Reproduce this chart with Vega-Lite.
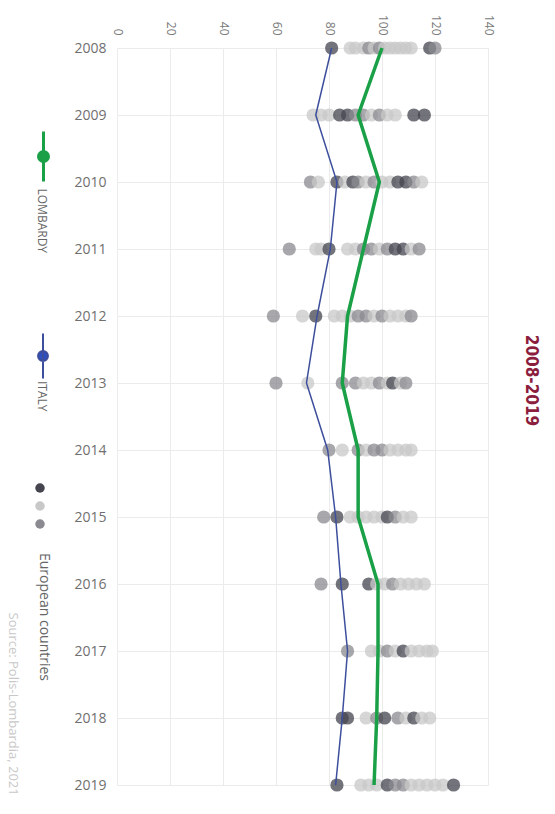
{
  "$schema": "https://vega.github.io/schema/vega-lite/v6.json",
  "autosize": {"type": "none"},
  "padding": {"left": 117, "top": 48, "right": 67, "bottom": 29},
  "width": 371,
  "height": 737,
  "background": "white",
  "config": {
    "view": {"stroke": null},
    "font": "Open Sans",
    "axis": {"gridColor": "#ebebeb", "gridWidth": 1, "domain": false, "ticks": false}
  },
  "title": {
    "text": "2008-2019",
    "orient": "right",
    "anchor": "middle",
    "font": "'DejaVu Sans Condensed', Roboto",
    "fontSize": 17,
    "fontWeight": "bold",
    "color": "#8b1d3d",
    "offset": 28,
    "dx": -36
  },
  "datasets": {
    "eu": [
      {"year": 2008, "value": 81, "shade": "dark"}, {"year": 2008, "value": 88, "shade": "light"}, {"year": 2008, "value": 90, "shade": "light"}, {"year": 2008, "value": 93, "shade": "light"}, {"year": 2008, "value": 95, "shade": "mid"}, {"year": 2008, "value": 97, "shade": "light"}, {"year": 2008, "value": 99, "shade": "mid"}, {"year": 2008, "value": 101, "shade": "light"}, {"year": 2008, "value": 103, "shade": "light"}, {"year": 2008, "value": 105, "shade": "light"}, {"year": 2008, "value": 107, "shade": "light"}, {"year": 2008, "value": 109, "shade": "light"}, {"year": 2008, "value": 111, "shade": "light"}, {"year": 2008, "value": 118, "shade": "dark"}, {"year": 2008, "value": 120, "shade": "mid"},
      {"year": 2009, "value": 74, "shade": "light"}, {"year": 2009, "value": 77, "shade": "light"}, {"year": 2009, "value": 80, "shade": "light"}, {"year": 2009, "value": 84, "shade": "dark"}, {"year": 2009, "value": 87, "shade": "dark"}, {"year": 2009, "value": 90, "shade": "mid"}, {"year": 2009, "value": 93, "shade": "mid"}, {"year": 2009, "value": 96, "shade": "light"}, {"year": 2009, "value": 99, "shade": "mid"}, {"year": 2009, "value": 102, "shade": "light"}, {"year": 2009, "value": 105, "shade": "light"}, {"year": 2009, "value": 112, "shade": "dark"}, {"year": 2009, "value": 116, "shade": "dark"},
      {"year": 2010, "value": 73, "shade": "mid"}, {"year": 2010, "value": 76, "shade": "light"}, {"year": 2010, "value": 83, "shade": "dark"}, {"year": 2010, "value": 86, "shade": "light"}, {"year": 2010, "value": 89, "shade": "dark"}, {"year": 2010, "value": 91, "shade": "mid"}, {"year": 2010, "value": 94, "shade": "light"}, {"year": 2010, "value": 97, "shade": "mid"}, {"year": 2010, "value": 100, "shade": "light"}, {"year": 2010, "value": 103, "shade": "light"}, {"year": 2010, "value": 106, "shade": "dark"}, {"year": 2010, "value": 109, "shade": "dark"}, {"year": 2010, "value": 112, "shade": "mid"}, {"year": 2010, "value": 115, "shade": "light"},
      {"year": 2011, "value": 65, "shade": "mid"}, {"year": 2011, "value": 75, "shade": "light"}, {"year": 2011, "value": 77, "shade": "light"}, {"year": 2011, "value": 80, "shade": "dark"}, {"year": 2011, "value": 87, "shade": "light"}, {"year": 2011, "value": 90, "shade": "light"}, {"year": 2011, "value": 93, "shade": "mid"}, {"year": 2011, "value": 96, "shade": "mid"}, {"year": 2011, "value": 99, "shade": "light"}, {"year": 2011, "value": 102, "shade": "mid"}, {"year": 2011, "value": 105, "shade": "dark"}, {"year": 2011, "value": 108, "shade": "dark"}, {"year": 2011, "value": 111, "shade": "light"}, {"year": 2011, "value": 114, "shade": "mid"},
      {"year": 2012, "value": 59, "shade": "mid"}, {"year": 2012, "value": 70, "shade": "light"}, {"year": 2012, "value": 75, "shade": "dark"}, {"year": 2012, "value": 82, "shade": "light"}, {"year": 2012, "value": 85, "shade": "light"}, {"year": 2012, "value": 88, "shade": "light"}, {"year": 2012, "value": 91, "shade": "mid"}, {"year": 2012, "value": 94, "shade": "mid"}, {"year": 2012, "value": 97, "shade": "light"}, {"year": 2012, "value": 100, "shade": "mid"}, {"year": 2012, "value": 103, "shade": "light"}, {"year": 2012, "value": 106, "shade": "light"}, {"year": 2012, "value": 109, "shade": "light"}, {"year": 2012, "value": 111, "shade": "mid"},
      {"year": 2013, "value": 60, "shade": "mid"}, {"year": 2013, "value": 72, "shade": "light"}, {"year": 2013, "value": 85, "shade": "mid"}, {"year": 2013, "value": 90, "shade": "mid"}, {"year": 2013, "value": 93, "shade": "light"}, {"year": 2013, "value": 96, "shade": "light"}, {"year": 2013, "value": 99, "shade": "mid"}, {"year": 2013, "value": 102, "shade": "light"}, {"year": 2013, "value": 104, "shade": "dark"}, {"year": 2013, "value": 107, "shade": "light"}, {"year": 2013, "value": 109, "shade": "mid"},
      {"year": 2014, "value": 80, "shade": "mid"}, {"year": 2014, "value": 85, "shade": "light"}, {"year": 2014, "value": 91, "shade": "mid"}, {"year": 2014, "value": 94, "shade": "light"}, {"year": 2014, "value": 97, "shade": "mid"}, {"year": 2014, "value": 100, "shade": "mid"}, {"year": 2014, "value": 103, "shade": "light"}, {"year": 2014, "value": 106, "shade": "light"}, {"year": 2014, "value": 109, "shade": "light"}, {"year": 2014, "value": 111, "shade": "light"},
      {"year": 2015, "value": 78, "shade": "mid"}, {"year": 2015, "value": 83, "shade": "dark"}, {"year": 2015, "value": 88, "shade": "light"}, {"year": 2015, "value": 91, "shade": "light"}, {"year": 2015, "value": 94, "shade": "light"}, {"year": 2015, "value": 97, "shade": "light"}, {"year": 2015, "value": 100, "shade": "light"}, {"year": 2015, "value": 102, "shade": "dark"}, {"year": 2015, "value": 105, "shade": "mid"}, {"year": 2015, "value": 108, "shade": "light"}, {"year": 2015, "value": 111, "shade": "light"},
      {"year": 2016, "value": 77, "shade": "mid"}, {"year": 2016, "value": 85, "shade": "dark"}, {"year": 2016, "value": 95, "shade": "dark"}, {"year": 2016, "value": 98, "shade": "light"}, {"year": 2016, "value": 101, "shade": "light"}, {"year": 2016, "value": 104, "shade": "mid"}, {"year": 2016, "value": 107, "shade": "light"}, {"year": 2016, "value": 110, "shade": "light"}, {"year": 2016, "value": 113, "shade": "light"}, {"year": 2016, "value": 116, "shade": "light"},
      {"year": 2017, "value": 87, "shade": "mid"}, {"year": 2017, "value": 96, "shade": "light"}, {"year": 2017, "value": 99, "shade": "light"}, {"year": 2017, "value": 102, "shade": "mid"}, {"year": 2017, "value": 105, "shade": "light"}, {"year": 2017, "value": 108, "shade": "dark"}, {"year": 2017, "value": 111, "shade": "light"}, {"year": 2017, "value": 114, "shade": "light"}, {"year": 2017, "value": 117, "shade": "light"}, {"year": 2017, "value": 119, "shade": "light"},
      {"year": 2018, "value": 85, "shade": "dark"}, {"year": 2018, "value": 87, "shade": "dark"}, {"year": 2018, "value": 94, "shade": "light"}, {"year": 2018, "value": 98, "shade": "mid"}, {"year": 2018, "value": 101, "shade": "dark"}, {"year": 2018, "value": 106, "shade": "mid"}, {"year": 2018, "value": 109, "shade": "light"}, {"year": 2018, "value": 112, "shade": "dark"}, {"year": 2018, "value": 115, "shade": "light"}, {"year": 2018, "value": 118, "shade": "light"},
      {"year": 2019, "value": 83, "shade": "dark"}, {"year": 2019, "value": 92, "shade": "light"}, {"year": 2019, "value": 95, "shade": "light"}, {"year": 2019, "value": 98, "shade": "light"}, {"year": 2019, "value": 102, "shade": "dark"}, {"year": 2019, "value": 105, "shade": "mid"}, {"year": 2019, "value": 108, "shade": "mid"}, {"year": 2019, "value": 111, "shade": "light"}, {"year": 2019, "value": 114, "shade": "light"}, {"year": 2019, "value": 117, "shade": "light"}, {"year": 2019, "value": 120, "shade": "light"}, {"year": 2019, "value": 123, "shade": "light"}, {"year": 2019, "value": 127, "shade": "dark"}
    ],
    "lombardy": [
      {"year": 2008, "series": "LOMBARDY", "value": 100}, {"year": 2009, "series": "LOMBARDY", "value": 91}, {"year": 2010, "series": "LOMBARDY", "value": 99}, {"year": 2011, "series": "LOMBARDY", "value": 93}, {"year": 2012, "series": "LOMBARDY", "value": 87}, {"year": 2013, "series": "LOMBARDY", "value": 85}, {"year": 2014, "series": "LOMBARDY", "value": 91}, {"year": 2015, "series": "LOMBARDY", "value": 91}, {"year": 2016, "series": "LOMBARDY", "value": 98.5}, {"year": 2017, "series": "LOMBARDY", "value": 98.5}, {"year": 2018, "series": "LOMBARDY", "value": 98}, {"year": 2019, "series": "LOMBARDY", "value": 97}
    ],
    "italy": [
      {"year": 2008, "series": "ITALY", "value": 81}, {"year": 2009, "series": "ITALY", "value": 75}, {"year": 2010, "series": "ITALY", "value": 83}, {"year": 2011, "series": "ITALY", "value": 80.5}, {"year": 2012, "series": "ITALY", "value": 75.5}, {"year": 2013, "series": "ITALY", "value": 71.5}, {"year": 2014, "series": "ITALY", "value": 79.5}, {"year": 2015, "series": "ITALY", "value": 82.5}, {"year": 2016, "series": "ITALY", "value": 84.5}, {"year": 2017, "series": "ITALY", "value": 87}, {"year": 2018, "series": "ITALY", "value": 85}, {"year": 2019, "series": "ITALY", "value": 82.5}
    ]
  },
  "resolve": {"scale": {"color": "independent"}, "legend": {"color": "independent"}},
  "layer": [
    {
      "data": {"name": "eu"},
      "mark": {"type": "circle", "size": 175, "opacity": 0.75},
      "encoding": {
        "x": {
          "field": "value", "type": "quantitative",
          "scale": {"domain": [0, 140], "nice": false, "zero": true},
          "axis": {
            "orient": "top", "values": [0, 20, 40, 60, 80, 100, 120, 140], "title": null,
            "labelAngle": 90, "labelAlign": "right", "labelBaseline": "middle",
            "labelPadding": 13, "labelFontSize": 12, "labelColor": "#7a7a7a", "grid": true
          }
        },
        "y": {
          "field": "year", "type": "ordinal",
          "scale": {"type": "point", "padding": 0},
          "axis": {
            "orient": "left", "labelAngle": 0, "labelAlign": "right", "labelBaseline": "middle",
            "labelPadding": 11, "labelFontSize": 14, "labelColor": "#6f6f6f", "grid": true,
            "title": "Source: Polis-Lombardia, 2021", "titleAngle": 90, "titleX": -105, "titleY": 564,
            "titleAlign": "left", "titleBaseline": "middle", "titleFontSize": 13,
            "titleFontWeight": "normal", "titleColor": "#c8c8c8"
          }
        },
        "color": {
          "field": "shade", "type": "nominal",
          "scale": {"domain": ["dark", "light", "mid"], "range": ["#44454f", "#c8c8c8", "#8a8a90"]},
          "legend": {
            "orient": "none", "legendX": -82, "legendY": 435,
            "title": "European countries", "titleOrient": "bottom", "titleAlign": "left",
            "titleBaseline": "middle", "titleFontSize": 14, "titleFontWeight": "normal",
            "titleColor": "#666666", "titlePadding": 24,
            "labelExpr": "''", "labelFontSize": 6, "symbolSize": 90, "symbolOpacity": 1,
            "symbolStrokeWidth": 0, "rowPadding": 8,
            "encoding": {"title": {"angle": {"value": 90}, "dy": {"value": -9}}}
          }
        }
      }
    },
    {
      "data": {"name": "italy"},
      "mark": {"type": "line", "strokeWidth": 1.5},
      "encoding": {
        "x": {"field": "value", "type": "quantitative"},
        "y": {"field": "year", "type": "ordinal"},
        "order": {"field": "year", "type": "quantitative"},
        "color": {
          "field": "series", "type": "nominal",
          "scale": {"domain": ["ITALY"], "range": ["#3d4f9c"]},
          "legend": {
            "orient": "none", "legendX": -97.5, "legendY": 284.5, "title": null,
            "symbolType": "M0,-1L0,1M0.22,0A0.22,0.22,0,1,1,-0.22,0A0.22,0.22,0,1,1,0.22,0Z",
            "symbolSize": 2025, "symbolStrokeWidth": 2, "symbolStrokeColor": "#2e4fbf",
            "symbolFillColor": "#2e4fbf", "labelFontSize": 12, "labelColor": "#666666",
            "labelOffset": -24.5,
            "encoding": {
              "symbols": {"fill": {"value": "#2e4fbf"}, "stroke": {"value": "#2e4fbf"}},
              "labels": {"angle": {"value": 90}, "align": {"value": "left"}, "baseline": {"value": "middle"}, "dx": {"value": 25}}
            }
          }
        }
      }
    },
    {
      "data": {"name": "lombardy"},
      "mark": {"type": "line", "strokeWidth": 3.5},
      "encoding": {
        "x": {"field": "value", "type": "quantitative"},
        "y": {"field": "year", "type": "ordinal"},
        "order": {"field": "year", "type": "quantitative"},
        "color": {
          "field": "series", "type": "nominal",
          "scale": {"domain": ["LOMBARDY"], "range": ["#1aa047"]},
          "legend": {
            "orient": "none", "legendX": -100, "legendY": 82, "title": null,
            "symbolType": "M0,-1L0,1M0.2,0A0.2,0.2,0,1,1,-0.2,0A0.2,0.2,0,1,1,0.2,0Z",
            "symbolSize": 2500, "symbolStrokeWidth": 3, "symbolStrokeColor": "#1aa047",
            "symbolFillColor": "#1aa047", "labelFontSize": 12, "labelColor": "#666666",
            "labelOffset": -28,
            "encoding": {
              "symbols": {"fill": {"value": "#1aa047"}, "stroke": {"value": "#1aa047"}},
              "labels": {"angle": {"value": 90}, "align": {"value": "left"}, "baseline": {"value": "middle"}, "dx": {"value": 32}}
            }
          }
        }
      }
    }
  ]
}
